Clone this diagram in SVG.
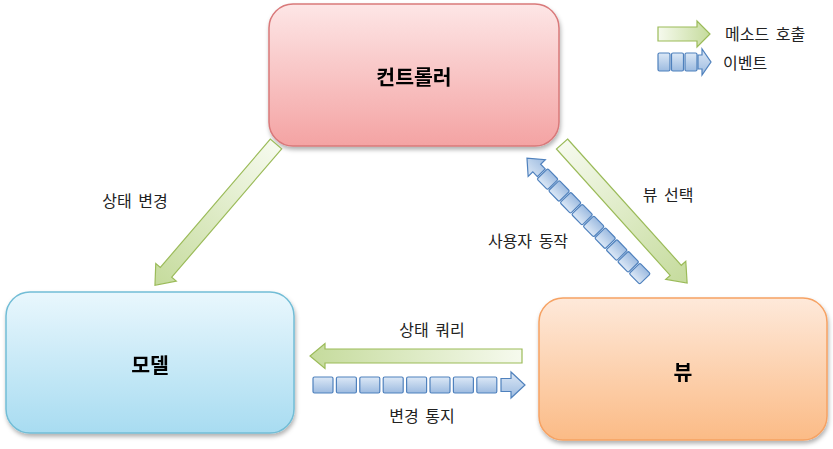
<svg xmlns="http://www.w3.org/2000/svg" width="833" height="449" viewBox="0 0 833 449">
<defs>
<style>
text{font-family:"Noto Sans CJK KR","Noto Sans",sans-serif;fill:#222;dominant-baseline:central}
.lbl{font-size:16px;word-spacing:3px}
.node{font-size:20.5px;font-weight:bold;text-anchor:middle;fill:#000}
.green{fill:url(#gGreen);stroke:#9bbb59;stroke-width:1.2}
.blue{fill:url(#gBlue);stroke:#4f81bd;stroke-width:1.2}
</style>
<linearGradient id="gGreen" x1="0" y1="0" x2="1" y2="0">
<stop offset="0" stop-color="#f6faee"/>
<stop offset="1" stop-color="#c5db9c"/>
</linearGradient>
<linearGradient id="gBlue" x1="0" y1="0" x2="0" y2="1">
<stop offset="0" stop-color="#dce8f6"/>
<stop offset="1" stop-color="#9dbbe0"/>
</linearGradient>
<linearGradient id="gRed" x1="0" y1="0" x2="0" y2="1">
<stop offset="0" stop-color="#fde6e6"/>
<stop offset="1" stop-color="#f4a3a3"/>
</linearGradient>
<linearGradient id="gCyan" x1="0" y1="0" x2="0" y2="1">
<stop offset="0" stop-color="#e9f7fd"/>
<stop offset="1" stop-color="#a8dcf1"/>
</linearGradient>
<linearGradient id="gOrange" x1="0" y1="0" x2="0" y2="1">
<stop offset="0" stop-color="#fee9da"/>
<stop offset="1" stop-color="#fbbb86"/>
</linearGradient>
<filter id="sh" x="-10%" y="-10%" width="120%" height="130%">
<feDropShadow dx="1" dy="3" stdDeviation="2" flood-color="#000" flood-opacity="0.3"/>
</filter>
<symbol id="sq" overflow="visible"><rect x="0" y="-7.5" width="15" height="15" rx="1.5" class="blue"/></symbol>
</defs>

<g id="controller" filter="url(#sh)">
<rect x="269" y="4" width="290" height="142" rx="24" fill="url(#gRed)" stroke="#d9797a" stroke-width="1.5"/>
<text class="node" x="414" y="76">컨트롤러</text>
</g>
<g id="model" filter="url(#sh)">
<rect x="6" y="292" width="288" height="141" rx="24" fill="url(#gCyan)" stroke="#72bdd6" stroke-width="1.5"/>
<text class="node" x="150" y="364">모델</text>
</g>
<g id="view" filter="url(#sh)">
<rect x="539" y="298" width="288" height="142" rx="24" fill="url(#gOrange)" stroke="#f6a263" stroke-width="1.5"/>
<text class="node" x="683" y="371">뷰</text>
</g>

<g id="connectors">
<!-- controller -> model (method call) -->
<path class="green" transform="translate(276,144) rotate(130.6)" d="M0,-7.5 L169,-7.5 L169,-13.5 L186,0 L169,13.5 L169,7.5 L0,7.5 Z"/>
<!-- controller -> view (method call) -->
<path class="green" transform="translate(562,144) rotate(48)" d="M0,-7.5 L170,-7.5 L170,-13.5 L187,0 L170,13.5 L170,7.5 L0,7.5 Z"/>
<!-- view -> model (method call) -->
<path class="green" transform="translate(522,356) rotate(180)" d="M0,-7 L197,-7 L197,-12.5 L212,0 L197,12.5 L197,7 L0,7 Z"/>
<!-- view -> controller (event) -->
<g transform="translate(645,279) rotate(225.7)">
<use href="#sq" x="0"/><use href="#sq" x="16.5"/><use href="#sq" x="33"/><use href="#sq" x="49.5"/><use href="#sq" x="66"/><use href="#sq" x="82.5"/><use href="#sq" x="99"/><use href="#sq" x="115.5"/><use href="#sq" x="132"/>
<path class="blue" d="M148.5,-5.5 L155,-5.5 L155,-12 L169,0 L155,12 L155,5.5 L148.5,5.5 Z"/>
</g>
<!-- model -> view (event) -->
<g>
<rect class="blue" x="313" y="377" width="20" height="16" rx="1.5"/>
<rect class="blue" x="336.4" y="377" width="20" height="16" rx="1.5"/>
<rect class="blue" x="359.8" y="377" width="20" height="16" rx="1.5"/>
<rect class="blue" x="383.2" y="377" width="20" height="16" rx="1.5"/>
<rect class="blue" x="406.6" y="377" width="20" height="16" rx="1.5"/>
<rect class="blue" x="430" y="377" width="20" height="16" rx="1.5"/>
<rect class="blue" x="453.4" y="377" width="20" height="16" rx="1.5"/>
<rect class="blue" x="476.8" y="377" width="20" height="16" rx="1.5"/>
<path class="blue" d="M501,378.5 L511,378.5 L511,372 L525,385 L511,398 L511,391.5 L501,391.5 Z"/>
</g>
</g>

<g id="labels">
<text class="lbl" x="135" y="200" text-anchor="middle">상태 변경</text>
<text class="lbl" x="668" y="194" text-anchor="middle">뷰 선택</text>
<text class="lbl" x="528" y="240" text-anchor="middle">사용자 동작</text>
<text class="lbl" x="432" y="329" text-anchor="middle">상태 쿼리</text>
<text class="lbl" x="422" y="415" text-anchor="middle">변경 통지</text>
</g>

<g id="legend">
<path class="green" d="M658,27 L697,27 L697,21 L710,34 L697,47 L697,41 L658,41 Z"/>
<text class="lbl" x="725" y="33">메소드 호출</text>
<rect class="blue" x="658" y="53" width="12" height="18" rx="1.5"/>
<rect class="blue" x="671.5" y="53" width="12" height="18" rx="1.5"/>
<rect class="blue" x="685" y="53" width="12" height="18" rx="1.5"/>
<path class="blue" d="M698,55 L702,55 L702,49 L711,62 L702,75 L702,69 L698,69 Z"/>
<text class="lbl" x="723" y="62">이벤트</text>
</g>
</svg>
